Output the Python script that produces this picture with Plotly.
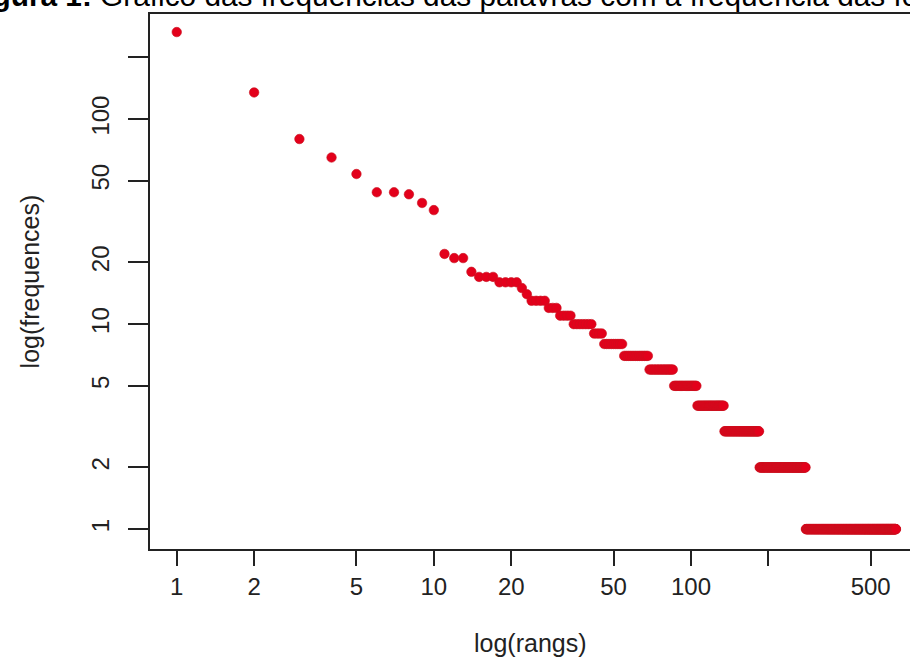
import plotly.graph_objects as go

# ---- data (rank -> frequency) ----
head_frequencies = [266, 135, 80, 65, 54, 44, 44, 43, 39, 36,
                    22, 21, 21, 18, 17, 17, 17, 16, 16, 16, 16, 15, 14]
run_levels = [13, 12, 11, 10, 9, 8, 7, 6, 5, 4, 3, 2, 1]
run_lengths = [4, 3, 4, 7, 4, 9, 14, 17, 20, 29, 50, 95, 348]

x_tickvals = [1, 2, 5, 10, 20, 50, 100, 200, 500]
x_ticktext = ["1", "2", "5", "10", "20", "50", "100", "", "500"]
y_tickvals = [1, 2, 5, 10, 20, 50, 100, 200]
y_ticktext = ["1", "2", "5", "10", "20", "50", "100", ""]

frequencies = list(head_frequencies)
for lvl, n in zip(run_levels, run_lengths):
    frequencies.extend([lvl] * n)
ranks = list(range(1, len(frequencies) + 1))

FONT = "Liberation Sans, Arial, sans-serif"
INK = "#222222"

fig = go.Figure()
fig.add_trace(go.Scatter(
    x=ranks, y=frequencies, mode="markers",
    marker=dict(size=9.5, color="#E3001B", line=dict(color="#C8101E", width=0.6)),
    showlegend=False, hoverinfo="x+y",
))

fig.update_layout(
    width=910, height=664,
    margin=dict(l=150, r=0, t=14, b=115),
    paper_bgcolor="white", plot_bgcolor="white",
    font=dict(family=FONT, color=INK),
    xaxis=dict(
        type="log", range=[-0.104, 2.852],
        tickmode="array", tickvals=x_tickvals, ticktext=x_ticktext,
        ticks="outside", ticklen=15, tickwidth=1.5, tickcolor=INK,
        showline=True, linecolor=INK, linewidth=1.5, mirror=True,
        showgrid=False, zeroline=False,
        tickfont=dict(size=24, family=FONT, color=INK),
    ),
    yaxis=dict(
        type="log", range=[-0.097, 2.513],
        tickmode="array", tickvals=y_tickvals, ticktext=y_ticktext,
        tickangle=-90, ticklabelstandoff=10,
        ticks="outside", ticklen=20, tickwidth=1.5, tickcolor=INK,
        showline=True, linecolor=INK, linewidth=1.5, mirror=False,
        showgrid=False, zeroline=False,
        tickfont=dict(size=24, family=FONT, color=INK),
    ),
    annotations=[
        dict(text="<b>Figura 1:</b> Gráfico das frequências das palavras com a frequência das formas",
             xref="paper", yref="paper", x=-0.2447, y=1.0,
             xanchor="left", yanchor="bottom", showarrow=False,
             font=dict(size=29.8, family=FONT, color="black")),
        dict(text="log(rangs)", xref="paper", yref="paper", x=0.5, y=-0.176,
             xanchor="center", yanchor="middle", showarrow=False,
             font=dict(size=25, family=FONT, color=INK)),
        dict(text="log(frequences)", xref="paper", yref="paper", x=-0.158, y=0.5,
             xanchor="center", yanchor="middle", textangle=-90, showarrow=False,
             font=dict(size=25, family=FONT, color=INK)),
    ],
)

fig.write_html("out.html")
